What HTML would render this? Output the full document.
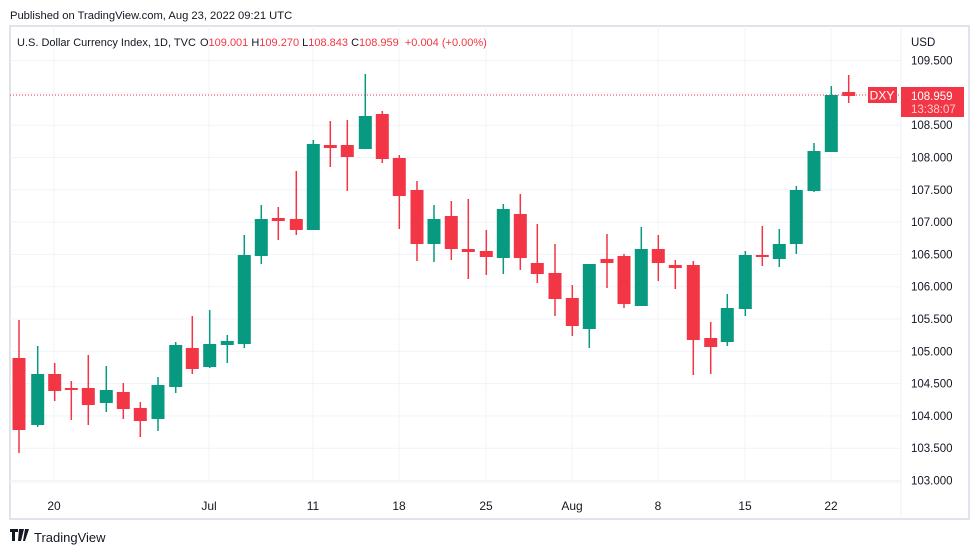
<!DOCTYPE html>
<html><head><meta charset="utf-8"><style>
body{margin:0;background:#fff;width:979px;height:555px;overflow:hidden;font-family:"Liberation Sans",sans-serif}
</style></head><body>
<svg width="979" height="555" xmlns="http://www.w3.org/2000/svg" font-family="Liberation Sans, sans-serif">
<text x="10" y="19" font-size="11.2" fill="#131722">Published on TradingView.com, Aug 23, 2022 09:21 UTC</text>
<rect x="10" y="26" width="959" height="493" fill="#fff" stroke="#e0e3eb" stroke-width="2"/>
<g stroke="#f0f3fa" stroke-width="1" id="grid"></g>
<line x1="10" y1="482" x2="901" y2="482" stroke="#eef0f4"/>
<line x1="901" y1="26" x2="901" y2="519" stroke="#eef0f4"/>
<text x="17" y="46" font-size="11" fill="#131722">U.S. Dollar Currency Index, 1D, TVC <tspan dx="1">O</tspan><tspan fill="#f23645">109.001</tspan>  H<tspan fill="#f23645">109.270</tspan>  L<tspan fill="#f23645">108.843</tspan>  C<tspan fill="#f23645">108.959</tspan> <tspan fill="#f23645" dx="3">+0.004 (+0.00%)</tspan></text>
<text x="911" y="46" font-size="11.5" fill="#131722">USD</text>
<g id="ax" font-size="11.5" fill="#131722"></g>
<g id="tx" font-size="12" fill="#131722" text-anchor="middle"></g>
<line x1="10" y1="95" x2="901" y2="95" stroke="#f23645" stroke-dasharray="1,2"/>
<g id="c"></g>
<rect x="868" y="87" width="29" height="16" fill="#f23645"/>
<text x="882" y="99.5" font-size="12" fill="#fff" text-anchor="middle">DXY</text>
<rect x="901" y="87" width="63" height="30" fill="#f23645"/>
<text x="911" y="100" font-size="11.5" fill="#fff">108.959</text>
<text x="911" y="113" font-size="11.5" fill="#fcc">13:38:07</text>
<path d="M10 529h8v3h-3v9h-3v-9h-2zM19 529h5l-3 12h-3z M25 529h4l-4 12h-2z" fill="#131722"/>
<text x="34" y="542" font-size="13" fill="#131722">TradingView</text>
</svg>
<script>
const ns="http://www.w3.org/2000/svg";
function el(p,t,a,txt){const e=document.createElementNS(ns,t);for(const k in a)e.setAttribute(k,a[k]);if(txt)e.textContent=txt;p.appendChild(e);}
const g=document.getElementById('grid'),ax=document.getElementById('ax'),tx=document.getElementById('tx'),c=document.getElementById('c');
for(let i=0;i<14;i++){const p=109.5-i*0.5,y=60.6+i*32.3;el(g,'line',{x1:10,x2:901,y1:y,y2:y});if(Math.abs(p-109)>0.1)el(ax,'text',{x:911,y:y+4},p.toFixed(3));}
[[54,'20'],[209,'Jul'],[313,'11'],[399,'18'],[486,'25'],[572,'Aug'],[658,'8'],[745,'15'],[831,'22']].forEach(([x,t])=>{el(g,'line',{x1:x,x2:x,y1:26,y2:482});el(tx,'text',{x:x,y:510},t);});
const d=[[19,'r',320,358,430,453],[37.7,'g',346,374,425,427],[54.7,'r',363,374,391,401],[71.3,'r',381,388,390,420],[88.3,'r',355,388,405,425],[106.3,'g',366,390,403,412],[123.3,'r',383,392,409,419],[140.3,'r',402,408,421,437],[158,'g',377,385,419,431],[175.7,'g',342,345,387,393],[192.3,'r',316,348,369,374],[209.7,'g',310,344,367,368],[227.3,'g',335,341,345,363],[244.3,'g',235,255,344,348],[261.3,'g',205,219,256,264],[278.3,'r',207,218,221,240],[296.3,'r',171,219,230,235],[313.3,'g',140,144,230,230],[330.3,'r',121,145,148,167],[347.3,'r',120,145,157,191],[365.3,'g',74,116,149,149],[382.3,'r',111,114,159,163],[399.3,'r',155,158,196,229],[417,'r',181,190,244,261],[434,'g',205,219,244,262],[451.3,'r',201,216,249,260],[468.3,'r',199,249,252,279],[486.3,'r',230,251,257,275],[503.3,'g',204,209,258,274],[520.3,'r',194,214,258,270],[537.3,'r',224,263,274,283],[555,'r',244,273,299,316],[572.3,'r',285,298,326,336],[589.3,'g',264,264,329,348],[607,'r',234,259,263,288],[624,'r',254,256,304,308],[641.3,'g',227,249,306,306],[658.3,'r',235,249,263,281],[675.3,'r',260,265,268,289],[693.3,'r',261,265,340,375],[710.7,'r',322,338,347,374],[727.3,'g',294,308,342,346],[745.3,'g',251,255,309,316],[762.3,'r',226,255,257,266],[779.3,'g',229,244,259,267],[796.3,'g',186,190,244,254],[814,'g',143,151,191,192],[831.3,'g',86,95,152,152],[848.7,'r',75,92,96,103]];
d.forEach(([x,k,wt,bt,bb,wb])=>{const col=k=='g'?'#089981':'#f23645';el(c,'rect',{x:x-0.75,y:wt,width:1.5,height:wb-wt,fill:col});el(c,'rect',{x:x-6.5,y:bt,width:13,height:Math.max(2,bb-bt),fill:col});});
</script>
</body></html>
